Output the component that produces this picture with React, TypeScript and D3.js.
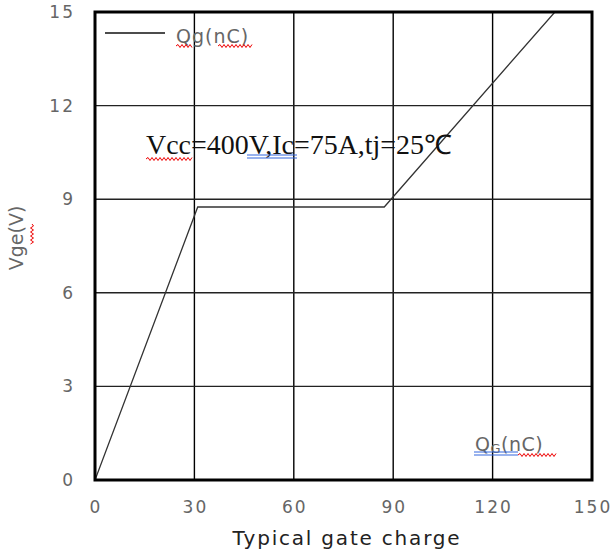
import React from "react";
import * as d3 from "d3";

const qgValues = [0, 31, 87.3, 138.8];
const vgeValues = [0, 8.75, 8.75, 15];
const xTicks = [0, 30, 60, 90, 120, 150];
const yTicks = [0, 3, 6, 9, 12, 15];
const legendLabel = "Qg(nC)";
const annotation = "Vcc=400V,Ic=75A,tj=25℃";
const xTitle = "Typical gate charge";
const yTitle = "Vge(V)";

function wavy(x0: number, x1: number, y: number) {
  let d = `M${x0},${y}`;
  const step = 2;
  let up = true;
  for (let x = x0 + step; x <= x1; x += step) {
    d += ` L${x},${y + (up ? -1.5 : 1.5)}`;
    up = !up;
  }
  return d;
}

export default function App() {
  const W = 613, H = 553;
  const left = 95, right = 592, top = 12, bottom = 480;
  const x = d3.scaleLinear().domain([0, 150]).range([left, right]);
  const y = d3.scaleLinear().domain([0, 15]).range([bottom, top]);
  const pts = qgValues.map((q, i) => [q, vgeValues[i]] as [number, number]);
  const line = d3.line<[number, number]>().x(d => x(d[0])).y(d => y(d[1]));
  const tickFont = "DejaVu Sans, sans-serif";
  return (
    <svg width={W} height={H} style={{ position: "absolute", left: 0, top: 0, background: "#fff" }}>
      <defs>
        <clipPath id="plot">
          <rect x={left} y={top} width={right - left} height={bottom - top} />
        </clipPath>
      </defs>
      {xTicks.slice(1, -1).map(t => (
        <line key={"gx" + t} x1={x(t)} x2={x(t)} y1={top} y2={bottom} stroke="#000" strokeWidth={1.4} />
      ))}
      {yTicks.slice(1, -1).map(t => (
        <line key={"gy" + t} x1={left} x2={right} y1={y(t)} y2={y(t)} stroke="#222" strokeWidth={1.4} />
      ))}
      <path d={line(pts) || ""} fill="none" stroke="#333" strokeWidth={1.3} clipPath="url(#plot)" />
      <rect x={left} y={top} width={right - left} height={bottom - top} fill="none" stroke="#000" strokeWidth={3} />
      {xTicks.map(t => (
        <text key={"xt" + t} x={x(t) + 1} y={513} textAnchor="middle" fontFamily={tickFont} fontSize={17} fill="#666" letterSpacing={2}>{t}</text>
      ))}
      {yTicks.map(t => (
        <text key={"yt" + t} x={75} y={y(t) + 6} textAnchor="end" fontFamily={tickFont} fontSize={17} fill="#666" letterSpacing={2}>{t}</text>
      ))}
      <text x={347} y={545} textAnchor="middle" fontFamily={tickFont} fontSize={20} fill="#222" letterSpacing={1.8}>{xTitle}</text>
      <text transform={`translate(23,238) rotate(-90)`} textAnchor="middle" fontFamily={tickFont} fontSize={19} fill="#666">{yTitle}</text>
      <path d={wavy(224, 244, 0)} transform="translate(32,0) rotate(90 0 0)" fill="none" stroke="#e00" strokeWidth={1} />
      {/* legend */}
      <line x1={105} x2={165} y1={33} y2={33} stroke="#111" strokeWidth={1.3} />
      <text x={176} y={43} fontFamily={tickFont} fontSize={19} fill="#666" letterSpacing={1}>{legendLabel}</text>
      <path d={wavy(176, 192, 46)} fill="none" stroke="#e00" strokeWidth={1} />
      <path d={wavy(218, 252, 46)} fill="none" stroke="#e00" strokeWidth={1} />
      {/* annotation */}
      <text x={146} y={154} fontFamily="Liberation Serif, serif" fontSize={27} fill="#111" textLength={306} lengthAdjust="spacingAndGlyphs">{annotation}</text>
      <path d={wavy(146, 192, 159)} fill="none" stroke="#e00" strokeWidth={1} />
      <line x1={247} x2={297} y1={155} y2={155} stroke="#3366dd" strokeWidth={1} />
      <line x1={247} x2={297} y1={158} y2={158} stroke="#3366dd" strokeWidth={1} />
      {/* Qg label */}
      <text x={475} y={451} fontFamily={tickFont} fontSize={19} fill="#666" letterSpacing={0.5}>Q<tspan fontSize={13} dy={2}>G</tspan><tspan dy={-2}>(nC)</tspan></text>
      <line x1={474} x2={518} y1={452} y2={452} stroke="#3366dd" strokeWidth={1} />
      <line x1={474} x2={518} y1={455} y2={455} stroke="#3366dd" strokeWidth={1} />
      <path d={wavy(518, 556, 455)} fill="none" stroke="#e00" strokeWidth={1} />
    </svg>
  );
}
